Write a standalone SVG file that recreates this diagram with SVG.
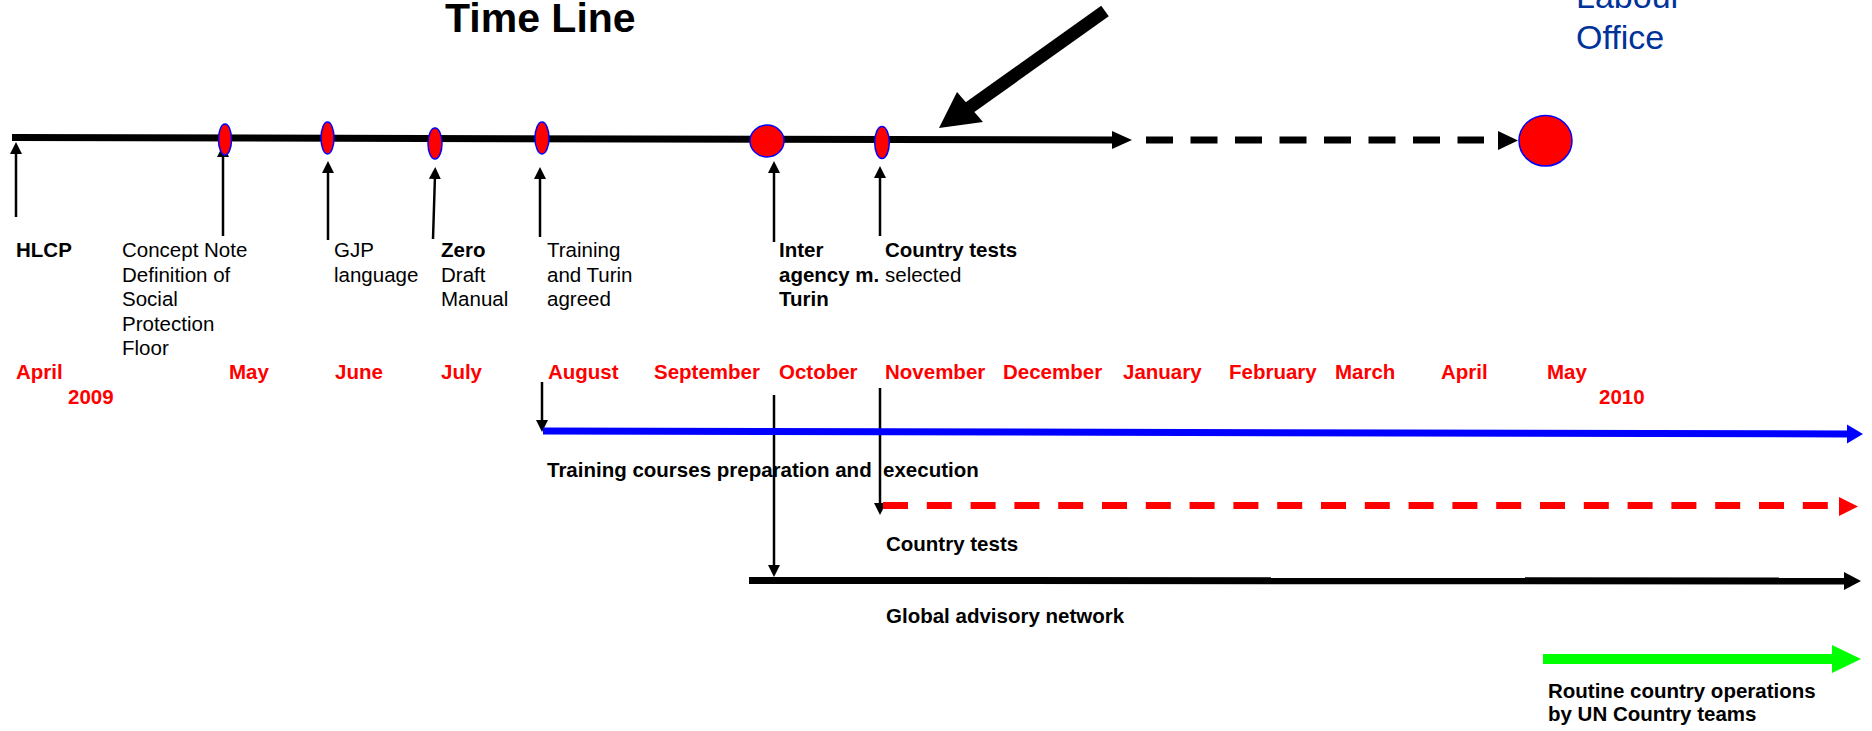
<svg xmlns="http://www.w3.org/2000/svg" width="1872" height="731" viewBox="0 0 1872 731">
<style>
text{font-family:"Liberation Sans",Arial,sans-serif;}
.lbl{font-size:20.5px;fill:#000}
.b{font-weight:bold}
.mon{font-size:20.5px;font-weight:bold;fill:#FF0000}
.title{font-size:41px;font-weight:bold;fill:#000}
.ilo{font-size:34px;fill:#003399}
.ev{fill:#FF0000;stroke:#0000FF;stroke-width:1.5}
.tick{stroke:#000;stroke-width:2.5;fill:none}
.bar{fill:none;stroke-width:7}
</style>
<defs>
<marker id="ah" markerUnits="userSpaceOnUse" markerWidth="12" markerHeight="12" viewBox="0 0 12 12" refX="4" refY="6" orient="auto">
<path d="M0,0 L12,6 L0,12 z" fill="#000"/>
</marker>
</defs>
<rect width="1872" height="731" fill="#fff"/>

<g id="title"><text class="title" x="445" y="32">Time Line</text></g>
<g id="ilo-label"><text class="ilo" x="1576" y="8">Labour</text><text class="ilo" x="1576" y="49">Office</text></g>

<g id="connectors">
<line x1="12" y1="137.5" x2="1114" y2="140" stroke="#000" stroke-width="7"/>
<polygon points="1112,131 1132,140 1112,149" fill="#000"/>
<line class="bar" x1="1146" y1="140" x2="1484" y2="140" stroke="#000" stroke-dasharray="27 17.5"/>
<polygon points="1498,131 1518,140.5 1498,150" fill="#000"/>
<line x1="1105" y1="11" x2="966" y2="110" stroke="#000" stroke-width="13"/>
<polygon points="939,128 957,92 983,122" fill="#000"/>

<line class="tick" x1="16" y1="217" x2="16" y2="150" marker-end="url(#ah)"/>
<line class="tick" x1="223" y1="236" x2="223" y2="153" marker-end="url(#ah)"/>
<line class="tick" x1="328" y1="240" x2="328" y2="169" marker-end="url(#ah)"/>
<line class="tick" x1="433" y1="239" x2="435" y2="175" marker-end="url(#ah)"/>
<line class="tick" x1="540" y1="237" x2="540" y2="175" marker-end="url(#ah)"/>
<line class="tick" x1="774" y1="242" x2="774" y2="169" marker-end="url(#ah)"/>
<line class="tick" x1="880" y1="236" x2="880" y2="174" marker-end="url(#ah)"/>

<line class="tick" x1="542" y1="382" x2="542" y2="424" marker-end="url(#ah)"/>
<line class="tick" x1="880" y1="388" x2="880" y2="507" marker-end="url(#ah)"/>
<line class="tick" x1="774" y1="395" x2="774" y2="569" marker-end="url(#ah)"/>

<line class="bar" x1="543" y1="431" x2="1849" y2="434" stroke="#0000FF"/>
<polygon points="1847,424.5 1863,434 1847,443.5" fill="#0000FF"/>
<line class="bar" x1="883" y1="505.5" x2="1830" y2="505.5" stroke="#FF0000" stroke-dasharray="25 18.8"/>
<polygon points="1839,497 1858,506.5 1839,516" fill="#FF0000"/>
<line class="bar" x1="749" y1="580.5" x2="1846" y2="581" stroke="#000"/>
<polygon points="1844,572 1861,581 1844,590" fill="#000"/>
<line x1="1543" y1="659" x2="1834" y2="659" stroke="#00FF00" stroke-width="10"/>
<polygon points="1832,645 1861,659 1832,673" fill="#00FF00"/>
</g>

<g id="ev-hlcp"><text class="lbl b" x="16" y="257">HLCP</text></g>
<g id="ev-concept"><ellipse class="ev" cx="225" cy="139.5" rx="6.5" ry="15.5"/>
<text class="lbl" x="122" y="257">Concept Note</text><text class="lbl" x="122" y="281.5">Definition of</text><text class="lbl" x="122" y="306">Social</text><text class="lbl" x="122" y="330.5">Protection</text><text class="lbl" x="122" y="355">Floor</text></g>
<g id="ev-gjp"><ellipse class="ev" cx="327.5" cy="138" rx="6.5" ry="16"/>
<text class="lbl" x="334" y="257">GJP</text><text class="lbl" x="334" y="281.5">language</text></g>
<g id="ev-zero"><ellipse class="ev" cx="435" cy="143.5" rx="7" ry="15.5"/>
<text class="lbl b" x="441" y="257">Zero</text><text class="lbl" x="441" y="281.5">Draft</text><text class="lbl" x="441" y="306">Manual</text></g>
<g id="ev-training"><ellipse class="ev" cx="542" cy="138" rx="7" ry="16"/>
<text class="lbl" x="547" y="257">Training</text><text class="lbl" x="547" y="281.5">and Turin</text><text class="lbl" x="547" y="306">agreed</text></g>
<g id="ev-inter"><ellipse class="ev" cx="767" cy="141" rx="17" ry="16"/>
<text class="lbl b" x="779" y="257">Inter</text><text class="lbl b" x="779" y="281.5">agency m.</text><text class="lbl b" x="779" y="306">Turin</text></g>
<g id="ev-country"><ellipse class="ev" cx="882" cy="142.5" rx="7.3" ry="16"/>
<text class="lbl b" x="885" y="257">Country tests</text><text class="lbl" x="885" y="281.5">selected</text></g>
<g id="ev-end"><ellipse class="ev" cx="1545.5" cy="140.7" rx="26.5" ry="25.3"/></g>

<g id="months">
<text class="mon" x="16" y="379">April</text>
<text class="mon" x="68" y="404">2009</text>
<text class="mon" x="229" y="379">May</text>
<text class="mon" x="335" y="379">June</text>
<text class="mon" x="441" y="379">July</text>
<text class="mon" x="548" y="379">August</text>
<text class="mon" x="654" y="379">September</text>
<text class="mon" x="779" y="379">October</text>
<text class="mon" x="885" y="379">November</text>
<text class="mon" x="1003" y="379">December</text>
<text class="mon" x="1123" y="379">January</text>
<text class="mon" x="1229" y="379">February</text>
<text class="mon" x="1335" y="379">March</text>
<text class="mon" x="1441" y="379">April</text>
<text class="mon" x="1547" y="379">May</text>
<text class="mon" x="1599" y="404">2010</text>
</g>

<g id="bar-training"><text class="lbl b" x="547" y="477" xml:space="preserve">Training courses preparation and  execution</text></g>
<g id="bar-country"><text class="lbl b" x="886" y="551">Country tests</text></g>
<g id="bar-global"><text class="lbl b" x="886" y="623">Global advisory network</text></g>
<g id="bar-routine"><text class="lbl b" x="1548" y="698">Routine country operations</text><text class="lbl b" x="1548" y="721">by UN Country teams</text></g>
</svg>
